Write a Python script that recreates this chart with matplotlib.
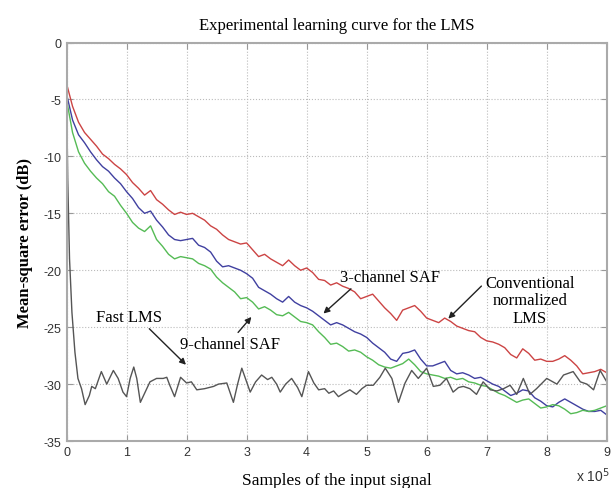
import numpy as np
import matplotlib.pyplot as plt

plt.rcParams['axes.unicode_minus'] = False

# sample axis in units of 1e5 samples
x_grid = np.arange(0, 91) / 10.0

nlms_db = [-3.6, -5.6, -7.0, -7.9, -8.5, -9.1, -9.8, -10.2, -10.7, -11.1,
           -11.6, -12.3, -12.8, -13.4, -13.0, -13.8, -14.2, -14.7, -15.1, -14.9,
           -15.1, -15.0, -15.3, -15.6, -16.1, -16.4, -16.9, -17.3, -17.5, -17.7,
           -17.6, -18.2, -18.8, -18.6, -19.0, -19.3, -19.6, -19.1, -19.6, -20.0,
           -19.8, -20.2, -20.8, -20.9, -21.3, -21.1, -21.4, -21.6, -21.9, -22.5,
           -22.3, -22.1, -22.7, -23.3, -23.8, -24.4, -23.5, -23.3, -23.1, -23.6,
           -24.2, -24.4, -24.6, -24.2, -24.5, -24.9, -25.1, -25.3, -25.4, -25.9,
           -26.2, -26.3, -26.5, -26.8, -27.4, -27.7, -26.9, -27.3, -27.9, -27.8,
           -28.0, -28.0, -27.8, -27.5, -27.9, -28.4, -29.1, -29.0, -28.9, -28.7,
           -29.0]

saf3_db = [-4.5, -6.8, -8.1, -8.8, -9.6, -10.3, -10.9, -11.3, -11.9, -12.4,
           -13.1, -13.7, -14.5, -15.0, -14.8, -15.6, -16.2, -16.9, -17.3, -17.4,
           -17.3, -17.2, -17.8, -18.0, -18.4, -19.2, -19.7, -19.6, -19.8, -20.0,
           -20.3, -20.7, -21.5, -21.8, -22.1, -22.5, -22.8, -22.3, -22.8, -23.1,
           -23.3, -23.6, -24.0, -24.4, -24.8, -24.6, -24.8, -25.1, -25.4, -25.6,
           -25.9, -26.4, -26.8, -27.2, -27.8, -28.0, -27.3, -27.2, -27.0, -27.8,
           -28.4, -28.4, -28.2, -28.0, -28.8, -29.1, -29.0, -29.2, -29.5, -29.4,
           -29.7, -30.0, -30.2, -30.6, -31.0, -30.8, -30.5, -30.6, -31.2, -31.5,
           -31.9, -32.0, -31.6, -31.3, -31.6, -31.9, -32.2, -32.4, -32.4, -32.3,
           -32.7]

saf9_db = [-5.0, -7.9, -9.6, -10.6, -11.3, -11.9, -12.4, -13.1, -13.5, -14.3,
           -15.0, -15.8, -16.3, -16.6, -16.1, -17.3, -17.9, -18.6, -19.0, -18.8,
           -18.9, -19.0, -19.4, -19.6, -19.9, -20.6, -21.1, -21.5, -21.9, -22.5,
           -22.4, -22.8, -23.4, -23.2, -23.5, -23.9, -24.0, -23.7, -24.1, -24.5,
           -24.6, -24.8, -25.4, -25.9, -26.5, -26.4, -26.7, -27.1, -27.0, -27.2,
           -27.6, -27.9, -28.3, -28.5, -28.6, -28.4, -28.2, -27.8, -28.3, -28.9,
           -29.1, -29.2, -29.3, -29.5, -29.4, -29.6, -29.5, -29.8, -29.9, -30.1,
           -30.2, -30.5, -30.8, -31.0, -31.3, -31.6, -31.4, -31.3, -31.7, -32.1,
           -32.0, -31.8, -31.9, -32.2, -32.6, -32.5, -32.3, -32.4, -32.3, -32.1,
           -31.9]

fast_x = [0.0, 0.02, 0.05, 0.09, 0.14, 0.19, 0.25, 0.31, 0.38, 0.42, 0.48,
          0.58, 0.67, 0.78, 0.86, 0.94, 1.0, 1.06, 1.12, 1.17, 1.23, 1.31,
          1.39, 1.5, 1.61, 1.67, 1.72, 1.8, 1.9, 2.0, 2.08, 2.17, 2.3, 2.45,
          2.53, 2.67, 2.78, 2.85, 2.92, 3.0, 3.06, 3.15, 3.25, 3.35, 3.42,
          3.5, 3.56, 3.65, 3.75, 3.85, 3.92, 4.03, 4.12, 4.2, 4.3, 4.37, 4.45,
          4.53, 4.62, 4.72, 4.83, 4.92, 5.0, 5.11, 5.22, 5.31, 5.42, 5.53,
          5.64, 5.75, 5.86, 6.0, 6.11, 6.22, 6.33, 6.44, 6.53, 6.61, 6.72,
          6.83, 6.94, 7.06, 7.17, 7.28, 7.39, 7.5, 7.61, 7.72, 7.83, 8.0,
          8.17, 8.28, 8.44, 8.56, 8.67, 8.78, 8.89, 9.0]
fast_db = [-4.0, -12.0, -19.0, -23.7, -27.2, -29.5, -30.4, -31.8, -31.0, -30.2, -30.4,
           -28.9, -30.0, -28.8, -29.5, -30.7, -31.1, -29.5, -28.5, -29.5, -31.6, -30.7,
           -29.8, -29.5, -29.5, -29.4, -30.1, -31.1, -29.4, -29.9, -29.8, -30.5, -30.4, -30.2,
           -30.0, -29.9, -31.6, -30.0, -28.6, -29.8, -30.7, -29.8, -29.2, -29.6, -29.4,
           -30.0, -30.7, -30.0, -29.5, -30.3, -31.1, -28.9, -29.9, -30.5, -30.4, -30.8, -30.6,
           -31.1, -30.8, -30.5, -30.9, -30.4, -30.1, -30.1, -29.4, -28.6, -29.5, -31.6,
           -29.9, -28.8, -29.5, -28.6, -30.2, -30.1, -29.5, -30.7, -30.3, -30.2, -30.4,
           -30.9, -29.8, -30.5, -30.6, -30.4, -30.1, -30.9, -29.5, -30.9, -30.4, -29.5,
           -30.0, -29.2, -28.9, -29.8, -30.0, -30.5, -28.8, -29.8]

xticks = [0, 1, 2, 3, 4, 5, 6, 7, 8, 9]
yticks = [-35, -30, -25, -20, -15, -10, -5, 0]

fig = plt.figure(figsize=(6.16, 4.89), dpi=100)
ax = fig.add_axes([0.108, 0.096, 0.877, 0.815])

ax.plot(x_grid, nlms_db, color='#cc4444', lw=1.0)
ax.plot(x_grid, saf3_db, color='#4040a0', lw=1.0)
ax.plot(x_grid, saf9_db, color='#55bb55', lw=1.0)
ax.plot(fast_x, fast_db, color='#555555', lw=1.0)

ax.set_xlim(0, 9)
ax.set_ylim(-35, 0)
ax.set_xticks(xticks)
ax.set_yticks(yticks)

ax.grid(True, linestyle=':', color='#bbbbbb', lw=0.8)
ax.tick_params(direction='in', top=True, right=True, length=4,
               colors='#999999', labelcolor='#333333', labelsize=9)
for lab in ax.get_xticklabels() + ax.get_yticklabels():
    lab.set_family('Liberation Sans')
for s in ax.spines.values():
    s.set_color('#aaaaaa')
    s.set_linewidth(1.5)

# MATLAB style exponent under the right end of the x axis
ax.text(1.005, -0.06, r'x 10$^{5}$', transform=ax.transAxes, ha='right',
        va='top', family='Liberation Sans', fontsize=10, color='#333333')

serif = 'Liberation Serif'
ax.set_title('Experimental learning curve for the LMS', family=serif,
             fontsize=12, pad=10)
ax.set_xlabel('Samples of the input signal', family=serif, fontsize=12.5,
              labelpad=10)
ax.set_ylabel('Mean-square error (dB)', family=serif, fontsize=12,
              fontweight='bold', labelpad=8)

arrow = dict(arrowstyle='-|>', color='#222222', lw=1.0, mutation_scale=9,
             shrinkA=1, shrinkB=0)
ax.annotate('Fast LMS', xy=(1.99, -28.3), xytext=(1.04, -24.1),
            family=serif, fontsize=12, ha='center', va='center',
            arrowprops=dict(arrow, relpos=(0.75, 0.0)))
ax.annotate('9-channel SAF', xy=(3.08, -24.1), xytext=(2.72, -26.5),
            family=serif, fontsize=12, ha='center', va='center',
            arrowprops=dict(arrow, relpos=(0.55, 1.0)))
ax.annotate('3-channel SAF', xy=(4.28, -23.8), xytext=(5.39, -20.6),
            family=serif, fontsize=12, ha='center', va='center',
            arrowprops=dict(arrow, relpos=(0.15, 0.0)))
ax.annotate('Conventional\nnormalized\nLMS', xy=(6.36, -24.25),
            xytext=(7.72, -22.65), family=serif, fontsize=12,
            ha='center', va='center', linespacing=1.15,
            arrowprops=dict(arrow, relpos=(0.0, 0.85)))

fig.savefig('out.png', dpi=100)
